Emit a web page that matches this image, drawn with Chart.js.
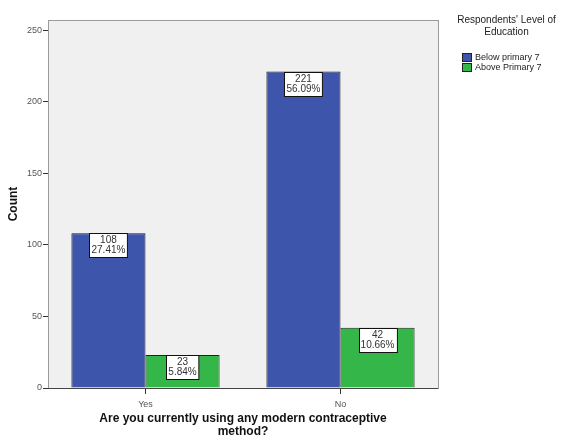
<!DOCTYPE html>
<html>
<head>
<meta charset="utf-8">
<script src="https://cdn.jsdelivr.net/npm/chart.js@4.4.0/dist/chart.umd.min.js"></script>
<style>
  html, body { margin: 0; padding: 0; background: #fff; }
  #wrap { position: relative; width: 569px; height: 446px; }
  #legend { position: absolute; left: 444px; top: 14px; width: 125px; font-family: "Liberation Sans", Arial, sans-serif; color: #222; }
  #legend .ttl { text-align: center; font-size: 10px; line-height: 12px; }
  #legend .item { font-size: 9px; line-height: 10px; margin-left: 18px; display: flex; align-items: center; }
  #legend .box { width: 10px; height: 9px; border: 1px solid #222; margin-right: 3px; box-sizing: border-box; }
</style>
</head>
<body>
<div id="wrap">
  <canvas id="barChart" width="569" height="446"></canvas>
  <div id="legend"></div>
</div>
<script>
// 데이터
const categories = ['Yes', 'No'];
const belowPrimary = [108, 221];
const abovePrimary = [23, 42];
const belowPct = ['27.41%', '56.09%'];
const abovePct = ['5.84%', '10.66%'];
const seriesNames = ['Below primary 7', 'Above Primary 7'];
const yTicks = [0, 50, 100, 150, 200, 250];

const BLUE = '#3d55ab';
const GREEN = '#35b648';
const FONT = '"Liberation Sans", Arial, sans-serif';

// 범례 (HTML)
const legendEl = document.getElementById('legend');
legendEl.innerHTML = '<div class="ttl">Respondents\' Level of<br>Education</div><div style="height:14px"></div>' +
  [BLUE, GREEN].map((c, i) =>
    `<div class="item"><span class="box" style="background:${c}"></span>${seriesNames[i]}</div>`
  ).join('');

// 플롯 배경 + 테두리
const framePlugin = {
  id: 'frame',
  beforeDraw(chart) {
    const { ctx, chartArea: a } = chart;
    ctx.save();
    ctx.fillStyle = '#f0f0f0';
    ctx.fillRect(a.left, a.top, a.right - a.left, a.bottom - a.top);
    ctx.strokeStyle = '#9a9a9a';
    ctx.lineWidth = 1;
    ctx.strokeRect(a.left + 0.5, a.top + 0.5, a.right - a.left, a.bottom - a.top);
    ctx.restore();
  },
  afterDatasetsDraw(chart) {
    const { ctx, chartArea: a } = chart;
    ctx.save();
    ctx.strokeStyle = '#444';
    ctx.lineWidth = 1;
    ctx.beginPath();
    ctx.moveTo(a.left, a.bottom + 0.5);
    ctx.lineTo(a.right, a.bottom + 0.5);
    ctx.stroke();
    ctx.restore();
  }
};

// 막대 위 라벨 박스
const labelPlugin = {
  id: 'boxLabels',
  afterDatasetsDraw(chart) {
    const ctx = chart.ctx;
    ctx.save();
    ctx.font = '10px ' + FONT;
    ctx.textAlign = 'center';
    ctx.textBaseline = 'middle';
    chart.data.datasets.forEach((ds, di) => {
      chart.getDatasetMeta(di).data.forEach((bar, i) => {
        const l1 = String(ds.data[i]);
        const l2 = ds.pct[i];
        const w = Math.max(ctx.measureText(l1).width, ctx.measureText(l2).width) + 4;
        const h = 24;
        const x = Math.round(bar.x - w / 2) + 0.5;
        const y = Math.round(bar.y) + 0.5;
        ctx.fillStyle = '#fff';
        ctx.fillRect(x, y, w, h);
        ctx.strokeStyle = '#111';
        ctx.lineWidth = 1;
        ctx.strokeRect(x, y, w, h);
        ctx.fillStyle = '#333';
        ctx.fillText(l1, bar.x, y + 7);
        ctx.fillText(l2, bar.x, y + 17);
      });
    });
    ctx.restore();
  }
};

new Chart(document.getElementById('barChart'), {
  type: 'bar',
  data: {
    labels: categories,
    datasets: [
      { label: seriesNames[0], data: belowPrimary, pct: belowPct, backgroundColor: BLUE, borderColor: '#15152a', borderWidth: 1 },
      { label: seriesNames[1], data: abovePrimary, pct: abovePct, backgroundColor: GREEN, borderColor: '#152a15', borderWidth: 1 }
    ]
  },
  options: {
    responsive: false,
    animation: false,
    layout: { padding: { left: 0, right: 131, top: 20, bottom: 0 } },
    datasets: { bar: { barPercentage: 1, categoryPercentage: 0.76 } },
    scales: {
      x: {
        grid: { display: true, drawOnChartArea: false, offset: false, tickLength: 6, color: '#333' },
        border: { display: false },
        ticks: { color: '#555', font: { family: FONT, size: 9 }, padding: 5 },
        title: {
          display: true,
          text: ['Are you currently using any modern contraceptive', 'method?'],
          color: '#111',
          font: { family: FONT, size: 12, weight: 'bold', lineHeight: 1.1 },
          padding: { top: 2, bottom: 8 }
        },
        afterFit(scale) { scale.height = 58; }
      },
      y: {
        min: 0,
        max: 257,
        afterBuildTicks(scale) { scale.ticks = yTicks.map(v => ({ value: v })); },
        grid: { display: true, drawOnChartArea: false, tickLength: 5, color: '#333' },
        border: { display: false },
        ticks: { color: '#555', font: { family: FONT, size: 9 }, padding: 1 },
        title: {
          display: true,
          text: 'Count',
          color: '#111',
          font: { family: FONT, size: 12, weight: 'bold' },
          padding: { top: 6, bottom: 0 }
        },
        afterFit(scale) { scale.width = 48; }
      }
    },
    plugins: {
      legend: { display: false },
      tooltip: { enabled: false }
    }
  },
  plugins: [framePlugin, labelPlugin]
});
</script>
</body>
</html>
